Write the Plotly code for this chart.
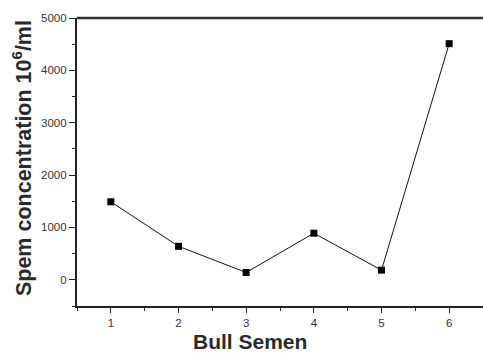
import plotly.graph_objects as go

samples = [1, 2, 3, 4, 5, 6]
concentration = [1490, 640, 140, 890, 185, 4510]
x_ticks = [1, 2, 3, 4, 5, 6]
y_ticks = [0, 1000, 2000, 3000, 4000, 5000]

axis_color = "#222222"
tick_font = dict(family="Arial, Liberation Sans, sans-serif", size=11.5, color="#333333")
title_font = dict(family="Arial, Liberation Sans, sans-serif", size=21, color="#2a2a2a")

fig = go.Figure()
fig.add_trace(go.Scatter(
    x=samples, y=concentration, mode="lines+markers",
    line=dict(color="#111111", width=1),
    marker=dict(symbol="square", size=7, color="#000000"),
    showlegend=False,
))

fig.update_layout(
    width=483, height=353,
    margin=dict(l=77, r=0, t=18, b=47),
    paper_bgcolor="white", plot_bgcolor="white",
    xaxis=dict(
        range=[0.5, 6.5], tickvals=x_ticks, ticktext=[str(v) for v in x_ticks],
        showgrid=False, zeroline=False, showline=True, linecolor=axis_color, linewidth=2.2,
        ticks="outside", ticklen=5, tickwidth=1.3, tickcolor=axis_color, tickfont=tick_font,
        minor=dict(dtick=0.5, tick0=0.5, ticks="outside", ticklen=3, tickwidth=1.2, tickcolor=axis_color),
    ),
    yaxis=dict(
        range=[-500, 5000], tickvals=y_ticks, ticktext=[str(v) for v in y_ticks],
        showgrid=False, zeroline=False, showline=True, linecolor=axis_color, linewidth=2.2,
        ticks="outside", ticklen=6, tickwidth=1.3, tickcolor=axis_color, tickfont=tick_font,
        minor=dict(dtick=500, tick0=-500, ticks="outside", ticklen=3, tickwidth=1.2, tickcolor=axis_color),
    ),
    shapes=[dict(type="line", xref="paper", yref="paper", x0=0, x1=1, y0=1, y1=1,
                 line=dict(color="#333333", width=2.5))],
    annotations=[
        dict(text="<b>Bull Semen</b>", xref="paper", yref="paper", x=0.426, y=-0.122,
             xanchor="center", yanchor="middle", showarrow=False, font=title_font),
        dict(text="<b>Spem concentration 10<sup>6</sup>/ml</b>", xref="paper", yref="paper",
             x=-0.137, y=0.515, xanchor="center", yanchor="middle", showarrow=False,
             textangle=-90, font=dict(family="Arial, Liberation Sans, sans-serif", size=21.5, color="#2a2a2a")),
    ],
)

fig.write_html("out.html")
